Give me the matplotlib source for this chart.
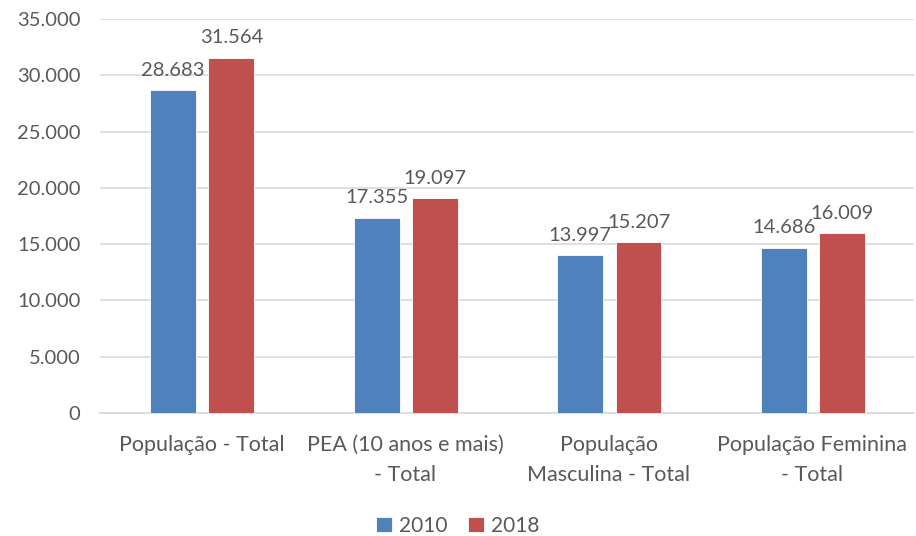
import numpy as np
import matplotlib.pyplot as plt

plt.rcParams['font.family'] = ['Lato', 'DejaVu Sans']

categorias = ['População - Total', 'PEA (10 anos e mais)\n- Total',
              'População\nMasculina - Total', 'População Feminina\n- Total']
valores_2010 = [28683, 17355, 13997, 14686]
valores_2018 = [31564, 19097, 15207, 16009]
anos = ['2010', '2018']

cinza = '#595959'
azul = '#4F81BD'
vermelho = '#C0504D'

def fmt(v):
    return '{:,}'.format(int(v)).replace(',', '.')

fig = plt.figure(figsize=(9.16, 5.36), dpi=100)
ax = fig.add_axes([0.109, 0.2295, 0.889, 0.735])

x = np.arange(len(categorias))
larg = 0.225
b1 = ax.bar(x - 0.14, valores_2010, larg, color=azul, edgecolor='white', linewidth=0.6, label=anos[0], zorder=3)
b2 = ax.bar(x + 0.146, valores_2018, larg, color=vermelho, edgecolor='white', linewidth=0.6, label=anos[1], zorder=3)

for barras in (b1, b2):
    for b in barras:
        ax.text(b.get_x() + b.get_width() / 2, b.get_height() + 1000, fmt(b.get_height()),
                ha='center', va='bottom', fontsize=14.5, color=cinza)

ax.set_ylim(0, 35000)
ax.set_xlim(-0.5, 3.5)
ticks = np.arange(0, 35001, 5000)
ax.set_yticks(ticks)
ax.set_yticklabels([fmt(t) for t in ticks], fontsize=14.5, color=cinza)
ax.set_xticks(x)
ax.set_xticklabels(categorias, fontsize=15.5, color=cinza, linespacing=1.6)
ax.tick_params(axis='y', length=0, pad=14)
ax.tick_params(axis='x', length=0, pad=16)
ax.yaxis.grid(True, color='#D9D9D9', linewidth=1.2, zorder=0)
for s in ['top', 'right', 'left']:
    ax.spines[s].set_visible(False)
ax.spines['bottom'].set_color('#D9D9D9')
ax.spines['bottom'].set_linewidth(1.2)

fig.legend(loc='lower center', bbox_to_anchor=(0.5, -0.035), ncol=2, frameon=False,
           fontsize=15, labelcolor=cinza, handlelength=0.75, handleheight=0.75,
           handletextpad=0.35, columnspacing=1.0)

fig.savefig('out.png', dpi=100)
